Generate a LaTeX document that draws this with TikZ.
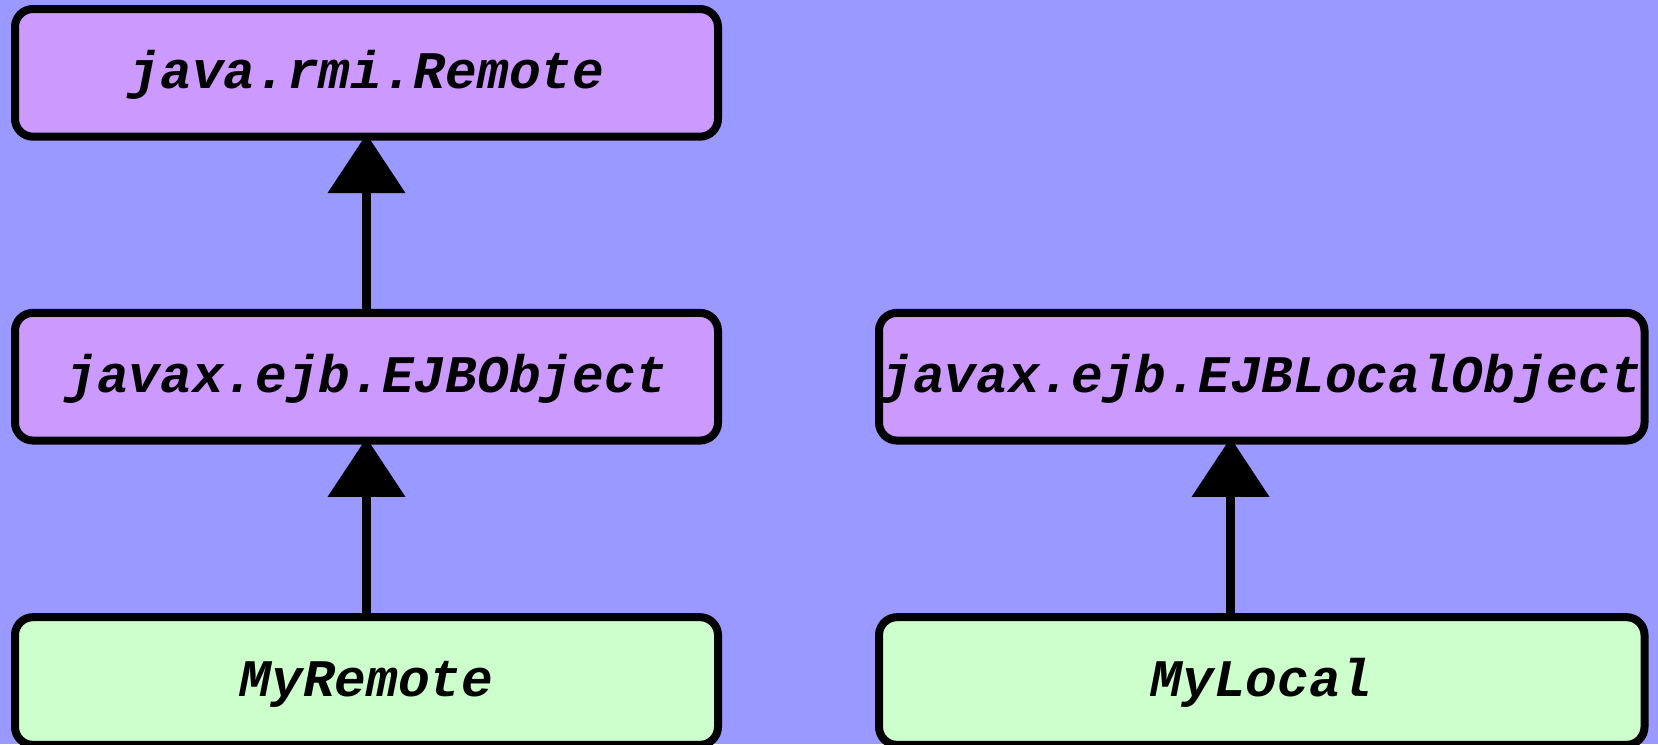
\documentclass[tikz,border=0pt]{standalone}
\usepackage{fontspec}
\newfontfamily\courfont{Liberation Mono}
\usetikzlibrary{arrows.meta}
\definecolor{bgblue}{HTML}{9999FF}
\definecolor{boxpurple}{HTML}{CC99FF}
\definecolor{boxgreen}{HTML}{CCFFCC}
\begin{document}
\begin{tikzpicture}[x=0.5pt,y=-0.5pt,
  umlbox/.style={draw=black,line width=4pt,rounded corners=9pt,inner sep=0pt,
    minimum height=63.85pt,text height=20pt,text depth=4.5pt,
    font=\courfont\bfseries\itshape\fontsize{26.4}{30}\selectfont},
  leftbox/.style={umlbox,minimum width=351.5pt},
  rightbox/.style={umlbox,minimum width=382.75pt},
  iface/.style={fill=boxpurple},
  impl/.style={fill=boxgreen},
  inherit/.style={line width=4.25pt,-{Triangle[length=29.5pt,width=39pt,line width=0pt]},shorten >=-3.3pt}
]
\fill[bgblue] (0,0) rectangle (1658,744);
\useasboundingbox (0,0) rectangle (1658,744);

\node[leftbox,iface] (remote) at (366.5,72.85) {java.rmi.Remote};
\node[leftbox,iface] (ejbobj) at (366.5,376.7) {javax.ejb.EJBObject};
\node[leftbox,impl] (myremote) at (366.5,681) {MyRemote};
\node[rightbox,iface] (ejblocal) at (1261.75,376.7) {javax.ejb.EJBLocalObject};
\node[rightbox,impl] (mylocal) at (1261.75,681) {MyLocal};

\draw[inherit] (ejbobj.north) -- (remote.south);
\draw[inherit] (myremote.north) -- (ejbobj.south);
\draw[inherit] ([xshift=-15.6pt]mylocal.north) -- ([xshift=-15.6pt]ejblocal.south);
\end{tikzpicture}
\end{document}
